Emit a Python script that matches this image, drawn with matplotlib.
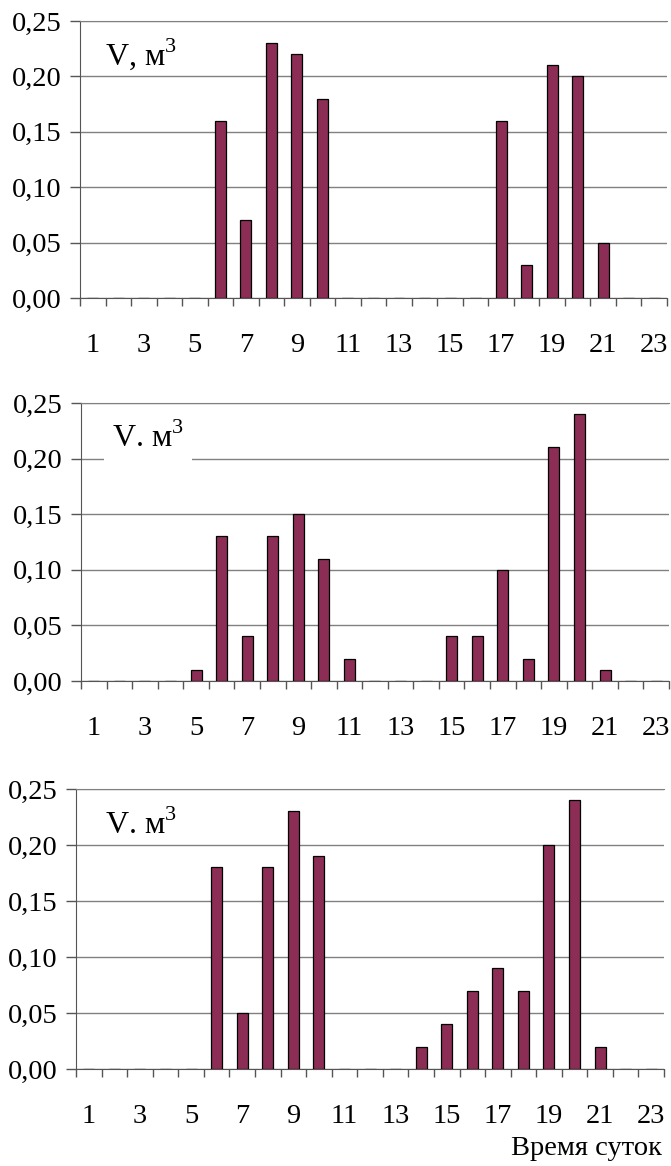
import matplotlib
matplotlib.use("Agg")
import matplotlib.pyplot as plt

plt.rcParams['font.family'] = ['Liberation Serif', 'DejaVu Serif']
plt.rcParams['mathtext.fontset'] = 'custom'
plt.rcParams['mathtext.rm'] = 'Liberation Serif'

# hours of the day
hours = list(range(1, 24))

# water volume per hour, m3 (three variants)
vol_1 = [0, 0, 0, 0, 0, 0.16, 0.07, 0.23, 0.22, 0.18, 0, 0,
         0, 0, 0, 0, 0.16, 0.03, 0.21, 0.20, 0.05, 0, 0]
vol_2 = [0, 0, 0, 0, 0.01, 0.13, 0.04, 0.13, 0.15, 0.11, 0.02, 0,
         0, 0, 0.04, 0.04, 0.10, 0.02, 0.21, 0.24, 0.01, 0, 0]
vol_3 = [0, 0, 0, 0, 0, 0.18, 0.05, 0.18, 0.23, 0.19, 0, 0,
         0, 0.02, 0.04, 0.07, 0.09, 0.07, 0.20, 0.24, 0.02, 0, 0]

y_ticks = [0, 0.05, 0.10, 0.15, 0.20, 0.25]
y_labels = ['0,00', '0,05', '0,10', '0,15', '0,20', '0,25']
x_labels = [str(h) for h in hours[::2]]

bar_color = '#8b2d55'

fig = plt.figure(figsize=(6.71, 11.66), dpi=100)

# (left, bottom, width, height), data, label text, text x, hide grid behind label
panels = [
    ([0.1192, 0.7444, 0.8748, 0.2376], vol_1, 'V, м$^{3}$', 0.043, False),
    ([0.1207, 0.4160, 0.8763, 0.2384], vol_2, 'V. м$^{3}$', 0.053, True),
    ([0.1133, 0.0832, 0.8763, 0.2401], vol_3, 'V. м$^{3}$', 0.050, False),
]

for rect, vals, lbl, tx, boxed in panels:
    ax = fig.add_axes(rect)
    ax.bar(hours, vals, width=0.43, color=bar_color, edgecolor='black',
           linewidth=0.9, zorder=3)
    ax.set_xlim(0.5, 23.5)
    ax.set_ylim(0, 0.25)
    ax.set_yticks(y_ticks)
    ax.set_yticklabels(y_labels, fontsize=20.5)
    ax.yaxis.grid(True, color='#808080', linewidth=1.0, zorder=0)
    ax.set_axisbelow(True)

    # boundaries carry the tick marks, odd hours carry the labels
    ax.set_xticks([h - 0.5 for h in hours] + [23.5])
    ax.set_xticklabels([])
    ax.set_xticks(hours[::2], minor=True)
    ax.set_xticklabels(x_labels, minor=True, fontsize=20.5)
    ax.tick_params(axis='x', which='major', direction='out', length=6,
                   width=1, color='#555555')
    ax.tick_params(axis='x', which='minor', length=0, pad=25)
    ax.tick_params(axis='y', direction='out', length=7, width=1,
                   color='#555555', pad=6)

    ax.spines['right'].set_visible(False)
    ax.spines['top'].set_color('#808080')
    ax.spines['left'].set_color('#555555')
    ax.spines['bottom'].set_color('#555555')

    bbox = dict(facecolor='white', edgecolor='none', pad=6) if boxed else None
    ax.text(tx, 0.84, lbl, transform=ax.transAxes, fontsize=23,
            va='baseline', ha='left', bbox=bbox, zorder=4)

fig.text(0.987, 0.004, 'Время суток', fontsize=20.5, ha='right', va='bottom')

fig.savefig('out.png', dpi=100)
